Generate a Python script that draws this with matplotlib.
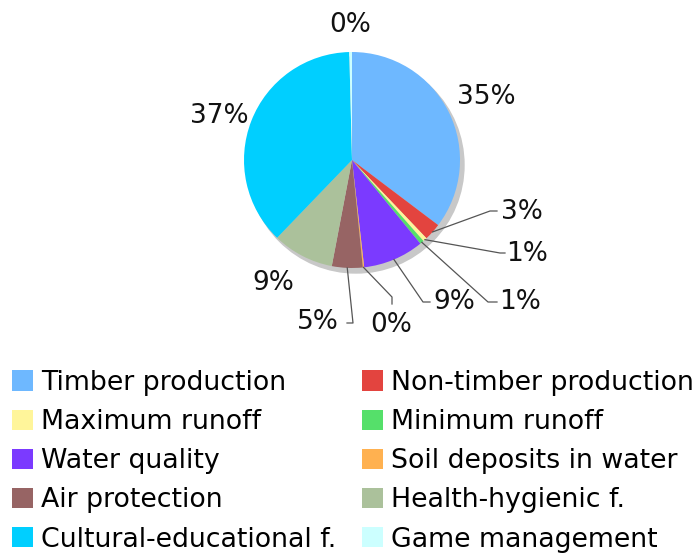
import matplotlib.pyplot as plt
import numpy as np
from matplotlib.patches import Circle

# forest functions, share in %
categories = ['Timber production', 'Non-timber production', 'Maximum runoff',
              'Minimum runoff', 'Water quality', 'Soil deposits in water',
              'Air protection', 'Health-hygienic f.', 'Cultural-educational f.',
              'Game management']
shares = [35.3, 2.6, 0.6, 0.6, 9.1, 0.2, 4.6, 9.2, 37.4, 0.4]
colors = ['#6EB8FF', '#E3443F', '#FFF59A', '#55E06A', '#7B3AFF',
          '#FFB150', '#976464', '#ABC19B', '#00CFFF', '#CCFFFF']

W, H = 700, 558
cx, cy, R = 352, H - 160, 108

# label placement in pixels (x, y from top), optional leader line points
label_pos = [(486, 97), (522, 212), (527, 254), (520, 302), (454, 302),
             (391, 325), (318, 322), (273, 283), (219, 116), (350, 25)]
leaders = {1: [(490, 211), (497, 211)],
           2: [(500, 253), (505, 253)],
           3: [(488, 302), (497, 302)],
           4: [(423, 302), (430, 302)],
           5: [(392, 297), (392, 304)],
           6: [(353, 323), (347, 323)]}

plt.rcParams['font.family'] = ['DejaVu Sans']
fig = plt.figure(figsize=(7, 5.58), dpi=100)
ax = fig.add_axes([0, 0, 1, 1])

# shadow
ax.add_patch(Circle((cx + 4, cy - 5), R, color='#C8C8C8', zorder=0))

wedges, _ = ax.pie(shares, colors=colors, startangle=90, counterclock=False,
                   center=(cx, cy), radius=R,
                   wedgeprops=dict(linewidth=0, zorder=1))
ax.set_xlim(0, W)
ax.set_ylim(0, H)
ax.axis('off')

for i, w in enumerate(wedges):
    pct = f'{round(shares[i]):.0f}%'
    tx, ty = label_pos[i]
    ax.text(tx, H - ty, pct, fontsize=19, ha='center', va='center', color='#111111')
    if i in leaders:
        mid = np.deg2rad((w.theta1 + w.theta2) / 2)
        pts = [(cx + R * np.cos(mid), cy + R * np.sin(mid))]
        pts += [(px, H - py) for px, py in leaders[i]]
        xs, ys = zip(*pts)
        ax.plot(xs, ys, color='#555555', linewidth=0.9, zorder=3)

# legend filled row-wise in two columns
order = [0, 2, 4, 6, 8, 1, 3, 5, 7, 9]
fig.legend([wedges[i] for i in order], [categories[i] for i in order],
           ncol=2, loc='upper left', bbox_to_anchor=(12 / W, 1 - 370 / H),
           frameon=False, fontsize=19.3, handlelength=0.8, handleheight=0.8,
           handletextpad=0.3, labelspacing=0.49, columnspacing=0.93,
           borderpad=0, borderaxespad=0)

fig.savefig('out.png', dpi=100)
